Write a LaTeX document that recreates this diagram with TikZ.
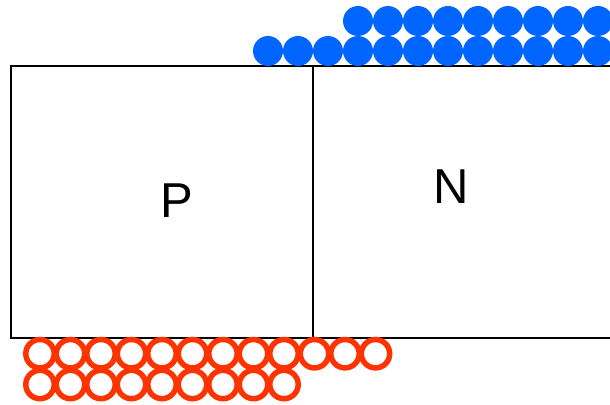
\documentclass[tikz,border=0pt]{standalone}
\usepackage{fontspec}
\setmainfont{Liberation Sans}
\definecolor{junctionink}{HTML}{000000}
\definecolor{electronblue}{HTML}{0066FF}
\definecolor{holered}{HTML}{FF3300}
\tikzset{
  region box/.style={junctionink, line width=1.5pt},
  region label/.style={font=\fontsize{49}{49}\selectfont, inner sep=0pt},
  electron/.style={fill=electronblue},
  hole/.style={draw=holered, line width=5.5pt},
}

\begin{document}
\begin{tikzpicture}[x=1pt, y=-1pt]
  \useasboundingbox (0,0) rectangle (610,404);
  \clip (0,0) rectangle (610,404);

  % regions
  \draw[region box] (11,66) rectangle (313,338);
  \draw[region box] (313,66) rectangle (640,338);
  \node[region label] (p) at (177,201) {P};
  \node[region label] (n) at (451,187) {N};

  % electrons on the n side
  \foreach \i in {0,...,11}
    \fill[electron] (268+30*\i,51) circle (15);
  \foreach \i in {0,...,8}
    \fill[electron] (358+30*\i,21) circle (15);

  % holes on the p side
  \foreach \i in {0,...,11}
    \draw[hole] (40+30.5*\i,353.7) circle (14.2);
  \foreach \i in {0,...,8}
    \draw[hole] (40+30.5*\i,384.5) circle (14.2);
\end{tikzpicture}
\end{document}
